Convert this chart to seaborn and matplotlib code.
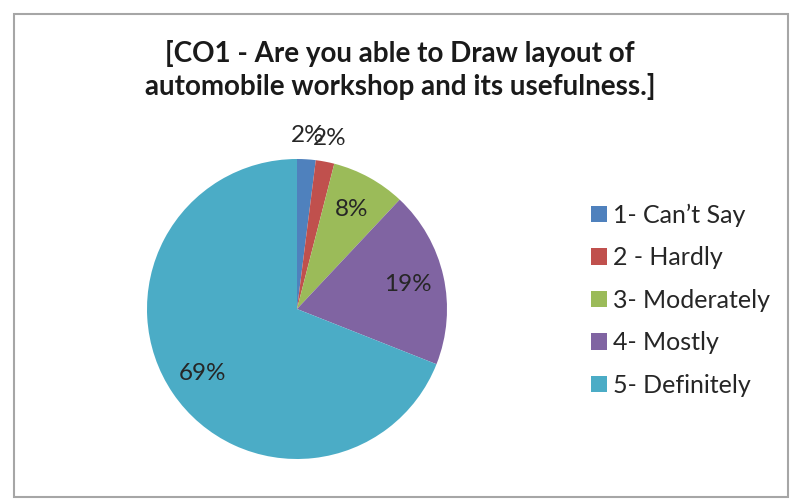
import matplotlib
matplotlib.use("Agg")
import matplotlib.pyplot as plt
import seaborn as sns
from matplotlib.patches import Rectangle
import numpy as np

categories = ["1- Can\u2019t Say", "2 - Hardly", "3- Moderately", "4- Mostly", "5- Definitely"]
shares = [2, 2, 8, 19, 69]
slice_colors = ["#4F81BD", "#C0504D", "#9BBB59", "#8064A2", "#4BACC6"]
title_text = "[CO1 - Are you able to Draw layout of\nautomobile workshop and its usefulness.]"

sns.set_style("white")
plt.rcParams["font.family"] = ["Lato", "DejaVu Sans"]
palette = sns.color_palette(slice_colors)

W, H = 794, 499
fig = plt.figure(figsize=(W / 100, H / 100), dpi=100)

# pie centre (297, 309) px, radius 150 px
cx, cy, r = 297, 309, 150
ax = fig.add_axes([(cx - r) / W, (H - cy - r) / H, 2 * r / W, 2 * r / H])
wedges, _ = ax.pie(shares, colors=palette, startangle=90, counterclock=False,
                   wedgeprops=dict(linewidth=0))
ax.set_xlim(-1, 1)
ax.set_ylim(-1, 1)
ax.set_aspect("equal")

for w, v in zip(wedges, shares):
    mid = np.deg2rad((w.theta1 + w.theta2) / 2)
    dist = 1.16 if v < 5 else 0.76
    ax.text(dist * np.cos(mid), dist * np.sin(mid), f"{v}%", ha="center", va="center",
            fontsize=17.5, color="#262626")

fig.text(400 / W, 1 - 70 / H, title_text, ha="center", va="center", fontsize=20,
         fontweight="bold", color="#1a1a1a", linespacing=1.25)

ax.legend(wedges, categories, loc="center left", bbox_to_anchor=(578 / W, 1 - 300 / H),
          bbox_transform=fig.transFigure, frameon=False, borderpad=0, fontsize=18,
          handlelength=0.64, handleheight=0.64, handletextpad=0.25, labelspacing=0.78,
          labelcolor="#262626")

fig.patches.append(Rectangle((14 / W, 2 / H), (788 - 14) / W, (497 - 14) / H,
                             transform=fig.transFigure, fill=False,
                             edgecolor="#a6a6a6", linewidth=1.5))

fig.savefig("out.png", dpi=100, facecolor="white")
